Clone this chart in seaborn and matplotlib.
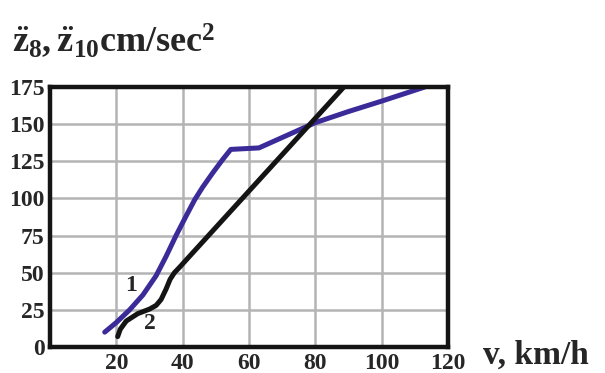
import matplotlib
matplotlib.use("Agg")
import matplotlib.pyplot as plt
import seaborn as sns
import pandas as pd

# curve 1 (blue) and curve 2 (black)
v_1 = [16.5, 20, 24, 28, 32, 35, 38, 41, 43.6, 46, 49, 52, 54.5, 63, 70, 80, 90, 100, 113]
z_1 = [10, 16.5, 25, 35, 48, 61, 75, 88, 99, 107.5, 117, 126, 133, 134, 141, 151, 158.5, 165.5, 175]

v_2 = [20.4, 21.2, 23, 26.5, 30, 32, 33.5, 35, 36.2, 37.5, 39, 40.5, 88.6]
z_2 = [7, 12, 17.5, 22.5, 25.5, 28, 32, 39, 45.5, 50, 53.5, 57.2, 175]

x_ticks = [20, 40, 60, 80, 100, 120]
y_ticks = [0, 25, 50, 75, 100, 125, 150, 175]

sns.set_style("white")
plt.rcParams['font.family'] = ['Liberation Serif', 'DejaVu Serif']
plt.rcParams['font.weight'] = 'bold'
plt.rcParams['mathtext.fontset'] = 'custom'
plt.rcParams['mathtext.rm'] = 'Liberation Serif:bold'
plt.rcParams['mathtext.bf'] = 'Liberation Serif:bold'
plt.rcParams['mathtext.it'] = 'Liberation Serif:bold'

df1 = pd.DataFrame({'v': v_1, 'z': z_1})
df2 = pd.DataFrame({'v': v_2, 'z': z_2})

fig = plt.figure(figsize=(6.05, 3.73), dpi=100)
ax = fig.add_axes([50 / 605, 1 - 347 / 373, 398 / 605, 260 / 373])

sns.lineplot(data=df1, x='v', y='z', ax=ax, color='#3b2b99', linewidth=3.6,
             sort=False, estimator=None, zorder=3)
sns.lineplot(data=df2, x='v', y='z', ax=ax, color='#141414', linewidth=3.6,
             sort=False, estimator=None, zorder=3)

ax.set_xlim(0, 120)
ax.set_ylim(0, 175)
ax.set_xticks(x_ticks)
ax.set_yticks(y_ticks)
ax.grid(True, color='#b4b4b4', linewidth=1.8, zorder=0)
ax.set_axisbelow(True)
ax.tick_params(length=0, labelsize=17, pad=4)
for lab in ax.get_xticklabels() + ax.get_yticklabels():
    lab.set_fontweight('bold')
for s in ax.spines.values():
    s.set_color('#141414')
    s.set_linewidth(3.2)
    s.set_zorder(4)
ax.set_xlabel('')
ax.set_ylabel('')

ax.text(24.5, 41.7, '1', fontsize=17, fontweight='bold', ha='center', va='center')
ax.text(30, 15.5, '2', fontsize=17, fontweight='bold', ha='center', va='center')

fig.text(12 / 605, 1 - 52 / 373, r'$\ddot{z}_8, \ddot{z}_{10}$cm/sec$^2$',
         fontsize=26, fontweight='bold', va='baseline', ha='left')
fig.text(483 / 605, 1 - 364 / 373, 'v, km/h', fontsize=24, fontweight='bold',
         va='baseline', ha='left')

fig.savefig('out.png', dpi=100)
